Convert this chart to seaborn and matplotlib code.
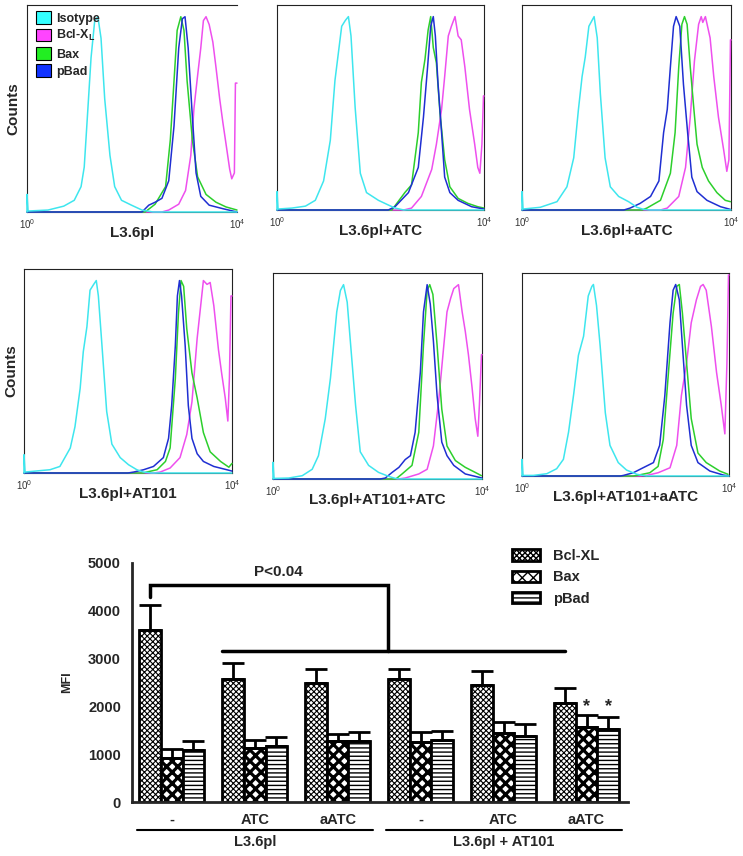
import numpy as np
import pandas as pd
import matplotlib
matplotlib.use("Agg")
import matplotlib.pyplot as plt
import seaborn as sns
from matplotlib.patches import Patch
from matplotlib.ticker import LogLocator, NullFormatter

# ---- flow cytometry overlays: (log10 fluorescence, % of max) ----
iso_1 = [(0, 0), (0, 9), (0.02, 0.5), (0.4, 1), (0.7, 3), (0.9, 6), (1.03, 13), (1.09, 23), (1.16, 53), (1.22, 79),
         (1.29, 98), (1.35, 100), (1.41, 89), (1.48, 58), (1.58, 29), (1.67, 13), (1.80, 6), (1.99, 3.5), (2.19, 1), (2.4, 0), (4, 0)]
bcl_1 = [(0, 0), (2.57, 0), (2.70, 1), (2.89, 4), (3.02, 11), (3.12, 29), (3.18, 53), (3.25, 70), (3.31, 84), (3.36, 98),
         (3.41, 100), (3.47, 96), (3.54, 87), (3.60, 74), (3.67, 58), (3.73, 46), (3.79, 35), (3.86, 22), (3.90, 17), (3.95, 20), (3.97, 66), (4.0, 66)]
bax_1 = [(0, 0), (2.25, 0), (2.44, 4), (2.64, 13), (2.73, 37), (2.80, 67), (2.86, 93), (2.93, 100), (2.99, 93), (3.05, 67),
         (3.15, 37), (3.25, 18), (3.41, 9), (3.60, 5), (3.79, 2.6), (4.0, 1)]
pbad_1 = [(0, 0), (2.19, 0), (2.32, 3.5), (2.44, 5), (2.57, 7), (2.70, 16), (2.80, 44), (2.89, 84), (2.96, 99), (3.01, 100),
          (3.07, 84), (3.14, 53), (3.22, 20), (3.31, 8), (3.47, 3.5), (3.73, 1.7), (3.92, 0.5), (4.0, 0)]

iso_2 = [(0, 0), (0, 9.5), (0.02, 0.5), (0.29, 1), (0.55, 2), (0.74, 5), (0.90, 15), (1.03, 36), (1.12, 67), (1.25, 95),
         (1.32, 98), (1.38, 100), (1.43, 90), (1.51, 53), (1.61, 19), (1.73, 9), (1.96, 5), (2.15, 2.6), (2.28, 1), (2.45, 0), (4, 0)]
bcl_2 = [(0, 0), (2.45, 0), (2.60, 1), (2.79, 7), (2.99, 21), (3.08, 34), (3.18, 52), (3.24, 69), (3.31, 90), (3.37, 95),
         (3.44, 100), (3.50, 90), (3.56, 88), (3.63, 74), (3.72, 52), (3.82, 34), (3.88, 22), (3.92, 19), (3.96, 34), (3.99, 59), (4.0, 59)]
bax_2 = [(0, 0), (2.22, 0), (2.47, 9), (2.60, 13), (2.73, 40), (2.79, 66), (2.86, 78), (2.92, 93), (2.97, 100), (3.02, 84),
         (3.08, 76), (3.15, 50), (3.24, 26), (3.34, 12), (3.50, 6), (3.69, 3.4), (3.88, 1.7), (4.0, 1)]
pbad_2 = [(0, 0), (2.15, 0), (2.28, 1.7), (2.54, 9), (2.73, 22), (2.83, 48), (2.91, 74), (2.97, 95), (3.02, 100), (3.06, 90),
          (3.11, 66), (3.18, 40), (3.24, 17), (3.34, 9), (3.50, 5), (3.76, 1.7), (4.0, 0.5)]

iso_3 = [(0, 0), (0, 9.5), (0.02, 0.5), (0.35, 1.4), (0.67, 4.3), (0.86, 12), (0.99, 27), (1.08, 52), (1.15, 69), (1.21, 79),
         (1.28, 95), (1.34, 98), (1.38, 100), (1.44, 89), (1.50, 60), (1.59, 27), (1.69, 12), (1.85, 7), (2.04, 4.3), (2.20, 1.4),
         (2.33, 0.3), (2.45, 0), (4, 0)]
bcl_3 = [(0, 0), (2.65, 0), (2.78, 1), (3.00, 7), (3.13, 22), (3.22, 48), (3.30, 77), (3.38, 96), (3.43, 100), (3.46, 97),
         (3.51, 100), (3.60, 89), (3.67, 69), (3.76, 48), (3.86, 31), (3.92, 20), (3.96, 26), (3.99, 88), (4.0, 88)]
bax_3 = [(0, 0), (2.30, 0), (2.39, 1), (2.65, 5), (2.84, 19), (2.93, 40), (3.00, 74), (3.06, 96), (3.11, 100), (3.16, 96),
         (3.22, 74), (3.29, 52), (3.35, 34), (3.45, 22), (3.57, 15), (3.73, 9), (3.89, 5), (3.99, 4.3)]
pbad_3 = [(0, 0), (1.95, 0), (2.07, 1), (2.26, 3.4), (2.46, 7), (2.62, 15), (2.71, 40), (2.78, 52), (2.84, 74), (2.90, 95),
          (2.95, 100), (3.02, 95), (3.09, 65), (3.17, 40), (3.25, 17), (3.35, 9.5), (3.54, 5), (3.80, 1.7), (3.99, 0.3)]

iso_4 = [(0, 0), (0, 9.5), (0.02, 0.5), (0.50, 1.7), (0.69, 3.4), (0.89, 13), (0.98, 24), (1.08, 44), (1.14, 63), (1.21, 76),
         (1.27, 95), (1.34, 98), (1.39, 100), (1.43, 92), (1.50, 66), (1.59, 32), (1.69, 15), (1.85, 8), (2.01, 4.3), (2.17, 1.7),
         (2.30, 0.5), (2.45, 0), (4, 0)]
bcl_4 = [(0, 0), (2.50, 0), (2.62, 0.5), (2.81, 2.6), (3.00, 8), (3.13, 20), (3.23, 37), (3.33, 70), (3.39, 85), (3.45, 100),
         (3.52, 98), (3.58, 99), (3.65, 87), (3.74, 64), (3.80, 52), (3.87, 39), (3.92, 27), (3.95, 49), (3.98, 92), (4.0, 92)]
bax_4 = [(0, 0), (2.30, 0), (2.36, 0.5), (2.56, 1.7), (2.72, 6), (2.81, 13), (2.91, 49), (2.97, 83), (3.02, 100), (3.07, 97),
         (3.13, 75), (3.23, 52), (3.33, 39), (3.45, 21), (3.58, 11), (3.78, 6), (3.94, 3), (4.0, 5)]
pbad_4 = [(0, 0), (2.0, 0), (2.11, 0.5), (2.30, 1.7), (2.49, 3.4), (2.68, 8), (2.78, 18), (2.84, 35), (2.91, 66), (2.95, 92),
          (2.99, 100), (3.03, 92), (3.10, 66), (3.16, 35), (3.23, 18), (3.33, 10), (3.45, 6), (3.65, 3.4), (3.90, 1.7), (4.0, 1)]

iso_5 = [(0, 0), (0, 8.6), (0.02, 0.3), (0.30, 0.5), (0.56, 1.7), (0.75, 5), (0.87, 12), (1.00, 31), (1.10, 52), (1.16, 69),
         (1.22, 86), (1.29, 97), (1.35, 100), (1.42, 91), (1.48, 71), (1.58, 38), (1.67, 14), (1.83, 7), (2.02, 3.4), (2.21, 1.4),
         (2.34, 0.3), (2.45, 0), (4, 0)]
bcl_5 = [(0, 0), (2.40, 0), (2.53, 0.5), (2.79, 2.6), (2.95, 5), (3.07, 17), (3.17, 40), (3.27, 69), (3.33, 86), (3.40, 93),
         (3.46, 98), (3.55, 100), (3.62, 86), (3.68, 76), (3.74, 64), (3.81, 47), (3.87, 31), (3.92, 22), (3.95, 38), (3.99, 64), (4.0, 64)]
bax_5 = [(0, 0), (2.35, 0), (2.47, 2.6), (2.66, 7), (2.79, 24), (2.88, 69), (2.95, 97), (3.00, 100), (3.06, 95), (3.14, 69),
         (3.23, 36), (3.33, 17), (3.49, 9.5), (3.68, 6), (3.87, 3.4), (3.99, 1.7)]
pbad_5 = [(0, 0), (2.05, 0), (2.15, 0.5), (2.28, 3.4), (2.41, 6), (2.53, 10), (2.63, 12), (2.72, 24), (2.82, 55), (2.88, 86),
          (2.95, 100), (3.01, 90), (3.07, 71), (3.14, 43), (3.23, 19), (3.33, 12), (3.46, 7), (3.68, 2.6), (3.94, 0.9), (4.0, 0.5)]

iso_6 = [(0, 0), (0, 8.7), (0.02, 0.3), (0.22, 0.3), (0.48, 1.2), (0.67, 3.8), (0.80, 8.7), (0.90, 23), (1.00, 43), (1.09, 63),
         (1.19, 73), (1.28, 94), (1.35, 99), (1.38, 100), (1.44, 89), (1.51, 68), (1.61, 33), (1.70, 16), (1.86, 7), (2.02, 3.1),
         (2.22, 0.9), (2.40, 0), (4, 0)]
bcl_6 = [(0, 0), (2.30, 0), (2.41, 0.3), (2.63, 1.7), (2.86, 4.3), (2.99, 16), (3.08, 42), (3.18, 59), (3.27, 80), (3.37, 92),
         (3.45, 99), (3.50, 100), (3.56, 97), (3.66, 78), (3.76, 54), (3.85, 37), (3.92, 22), (3.96, 59), (3.99, 105), (4.0, 105)]
bax_6 = [(0, 0), (2.15, 0), (2.22, 0.3), (2.47, 1.7), (2.63, 5), (2.73, 19), (2.83, 54), (2.92, 85), (2.99, 99), (3.04, 100),
         (3.10, 85), (3.18, 59), (3.27, 30), (3.40, 12), (3.56, 7), (3.82, 2.6), (3.98, 0.9)]
pbad_6 = [(0, 0), (1.90, 0), (1.96, 0.3), (2.15, 1.7), (2.34, 4.3), (2.54, 7), (2.66, 16), (2.76, 42), (2.86, 80), (2.92, 97),
          (2.97, 100), (3.04, 92), (3.10, 68), (3.18, 37), (3.27, 16), (3.40, 7), (3.63, 2.6), (3.89, 0.5), (4.0, 0)]

panel_titles = ["L3.6pl", "L3.6pl+ATC", "L3.6pl+aATC", "L3.6pl+AT101", "L3.6pl+AT101+ATC", "L3.6pl+AT101+aATC"]
panel_curves = [
    (iso_1, bcl_1, bax_1, pbad_1), (iso_2, bcl_2, bax_2, pbad_2), (iso_3, bcl_3, bax_3, pbad_3),
    (iso_4, bcl_4, bax_4, pbad_4), (iso_5, bcl_5, bax_5, pbad_5), (iso_6, bcl_6, bax_6, pbad_6),
]
hist_markers = ["Isotype", "Bcl-XL", "Bax", "pBad"]
hist_colors = {"Isotype": "#3ee6ee", "Bcl-XL": "#ee4fee", "Bax": "#2ccf2c", "pBad": "#1f2fd2"}
legend_colors = {"Isotype": "#33ffff", "Bcl-XL": "#ff44ff", "Bax": "#22ee22", "pBad": "#1133ff"}

# ---- MFI bar chart ----
conditions = ["L3.6pl", "L3.6pl+ATC", "L3.6pl+aATC", "L3.6pl+AT101", "L3.6pl+AT101+ATC", "L3.6pl+AT101+aATC"]
cond_ticks = ["-", "ATC", "aATC", "-", "ATC", "aATC"]
bcl_mfi = [3600, 2580, 2490, 2570, 2450, 2070]
bcl_err = [520, 330, 290, 220, 290, 310]
bax_mfi = [920, 1130, 1280, 1260, 1450, 1570]
bax_err = [180, 170, 150, 200, 220, 240]
pbad_mfi = [1080, 1170, 1270, 1290, 1380, 1530]
pbad_err = [190, 180, 200, 190, 250, 240]
bar_markers = ["Bcl-XL", "Bax", "pBad"]

sns.set_style("white")
plt.rcParams["font.family"] = ["Liberation Sans", "DejaVu Sans"]
plt.rcParams["font.weight"] = "bold"
plt.rcParams["mathtext.default"] = "regular"

W, H = 743, 856
fig = plt.figure(figsize=(W / 100, H / 100), dpi=100)


def px_axes(left, top, right, bottom):
    return fig.add_axes([left / W, 1 - bottom / H, (right - left) / W, (bottom - top) / H])


boxes = [(27, 5, 237, 212), (277, 5, 484, 210), (522, 5, 731, 210),
         (24, 269, 232, 473), (273, 273, 482, 479), (522, 273, 729, 476)]
count_x = {0: 13, 3: 11}
draw_order = ["Bcl-XL", "Bax", "pBad", "Isotype"]

for i, (box, title, curves) in enumerate(zip(boxes, panel_titles, panel_curves)):
    ax = px_axes(*box)
    ax.set_xscale("log")
    frames = []
    for name, pts in zip(hist_markers, curves):
        d = pd.DataFrame(pts, columns=["log_fl", "pct"])
        d["fl"] = 10 ** d["log_fl"]
        d["marker"] = name
        frames.append(d)
    df = pd.concat(frames, ignore_index=True)
    sns.lineplot(data=df, x="fl", y="pct", hue="marker", hue_order=draw_order, palette=hist_colors,
                 sort=False, estimator=None, linewidth=1.1, legend=False, ax=ax)
    for ln in ax.lines:
        ln.set_clip_on(False)
        ln.set_zorder(3)
    ax.set_xlim(1, 1e4)
    ax.set_ylim(0, 106)
    ax.set_yticks([])
    ax.set_xticks([1, 1e4])
    ax.set_xticklabels(["$10^0$", "$10^4$"], fontsize=7, fontweight="normal", color="#333333")
    ax.xaxis.set_minor_locator(LogLocator(base=10, subs=np.arange(2, 10), numticks=20))
    ax.xaxis.set_minor_formatter(NullFormatter())
    ax.tick_params(axis="x", which="major", direction="in", length=4, width=0.8, pad=4, colors="#333333")
    ax.tick_params(axis="x", which="minor", direction="in", length=2.5, width=0.6, colors="#333333")
    for s in ax.spines.values():
        s.set_linewidth(0.8)
        s.set_color("#222222")
    if i == 0:
        ax.spines["right"].set_visible(False)
    ax.set_xlabel(title, fontsize=11, fontweight="bold")
    ax.xaxis.set_label_coords(0.5, -21 / (box[3] - box[1]))
    ax.xaxis.label.set_va("center")
    if i in count_x:
        ax.set_ylabel("Counts", fontsize=11, fontweight="bold")
        ax.yaxis.set_label_coords((count_x[i] - box[0]) / (box[2] - box[0]), 0.5)
        ax.yaxis.label.set_va("center")
    else:
        ax.set_ylabel("")
    if i == 0:
        handles = [Patch(facecolor=legend_colors[m], edgecolor="black", linewidth=0.8) for m in hist_markers]
        labels = ["Isotype", "Bcl-X$_{L}$", "Bax", "pBad"]
        leg = ax.legend(handles, labels, loc="upper left", bbox_to_anchor=(0.045, 0.97), frameon=False,
                        borderpad=0, borderaxespad=0, handlelength=1.15, handleheight=1.15, handletextpad=0.45,
                        labelspacing=0.3, prop={"size": 9, "weight": "bold"})
        leg.set_zorder(5)

# ---- bar chart ----
bx = px_axes(132, 563, 628, 802)
bar_df = pd.DataFrame({
    "condition": conditions * 3,
    "marker": np.repeat(bar_markers, len(conditions)),
    "MFI": bcl_mfi + bax_mfi + pbad_mfi,
})
errs = {"Bcl-XL": bcl_err, "Bax": bax_err, "pBad": pbad_err}
plt.rcParams["hatch.linewidth"] = 1.0
sns.barplot(data=bar_df, x="condition", y="MFI", hue="marker", order=conditions, hue_order=bar_markers,
            palette={m: "white" for m in bar_markers}, edgecolor="black", linewidth=2, width=0.78,
            errorbar=None, legend=False, ax=bx)

hatches = {"Bcl-XL": "xxxxxx", "Bax": "xxx", "pBad": "----"}
hatch_lw = {"Bcl-XL": 0.8, "Bax": 2.3, "pBad": 1.0}
centers = {}
for m, cont in zip(bar_markers, bx.containers):
    xs, hs = [], []
    for bar in cont:
        bar.set_hatch(hatches[m])
        if hasattr(bar, "set_hatch_linewidth"):
            bar.set_hatch_linewidth(hatch_lw[m])
        xs.append(bar.get_x() + bar.get_width() / 2)
        hs.append(bar.get_height())
    centers[m] = xs
    bx.errorbar(xs, hs, yerr=[np.zeros(len(hs)), errs[m]], fmt="none", ecolor="black",
                elinewidth=2, capsize=8, capthick=2, zorder=1)

bx.set_xlim(-0.48, 5.5)
bx.set_ylim(0, 5000)
bx.set_yticks([0, 1000, 2000, 3000, 4000, 5000])
bx.set_xticks(range(6))
bx.set_xticklabels(cond_ticks)
bx.tick_params(axis="both", labelsize=10.5, length=5, width=2, direction="out", pad=3)
for lab in bx.get_xticklabels() + bx.get_yticklabels():
    lab.set_fontweight("bold")
sns.despine(ax=bx)
bx.spines["left"].set_linewidth(2)
bx.spines["bottom"].set_linewidth(2)
bx.set_xlabel("")
bx.set_ylabel("MFI", fontsize=9, fontweight="bold")
bx.yaxis.set_label_coords((67 - 132) / 496, 0.5)
bx.yaxis.label.set_va("center")

# significance bracket
top_y, left_drop, low_y = 4540, 4290, 3160
xl = centers["Bcl-XL"][0]
xr = 3 - 0.39
bx.plot([xl, xl, xr, xr], [left_drop, top_y, top_y, low_y], color="black", lw=2.5, solid_joinstyle="miter")
bx.plot([1 - 0.39, centers["Bcl-XL"][5]], [low_y, low_y], color="black", lw=2.5)
bx.text(1.28, 4810, "P<0.04", ha="center", va="center", fontsize=11, fontweight="bold")

star_y = max(bax_mfi[5] + bax_err[5], pbad_mfi[5] + pbad_err[5]) + 180
for m in ["Bax", "pBad"]:
    bx.text(centers[m][5], star_y, "*", ha="center", va="center", fontsize=13, fontweight="bold")

# cell line groups under the axis
trans = bx.get_xaxis_transform()
for (a, b), name in [((0, 2), "L3.6pl"), ((3, 5), "L3.6pl + AT101")]:
    bx.plot([a - 0.42, b + 0.43], [-0.117, -0.117], color="black", lw=1.5, transform=trans, clip_on=False)
    bx.text((a + b) / 2, -0.167, name, ha="center", va="center", fontsize=10.5, fontweight="bold",
            transform=trans)

handles = [Patch(facecolor="white", edgecolor="black", linewidth=2, hatch=hatches[m]) for m in bar_markers]
for h, m in zip(handles, bar_markers):
    if hasattr(h, "set_hatch_linewidth"):
        h.set_hatch_linewidth(hatch_lw[m])
bx.legend(handles, bar_markers, loc="upper left", bbox_to_anchor=(512 / W, 1 - 549 / H),
          bbox_transform=fig.transFigure, frameon=False, borderpad=0, borderaxespad=0,
          handlelength=1.9, handleheight=0.8, handletextpad=0.9, labelspacing=0.5,
          prop={"size": 10.5, "weight": "bold"})

fig.savefig("out.png", dpi=100)
